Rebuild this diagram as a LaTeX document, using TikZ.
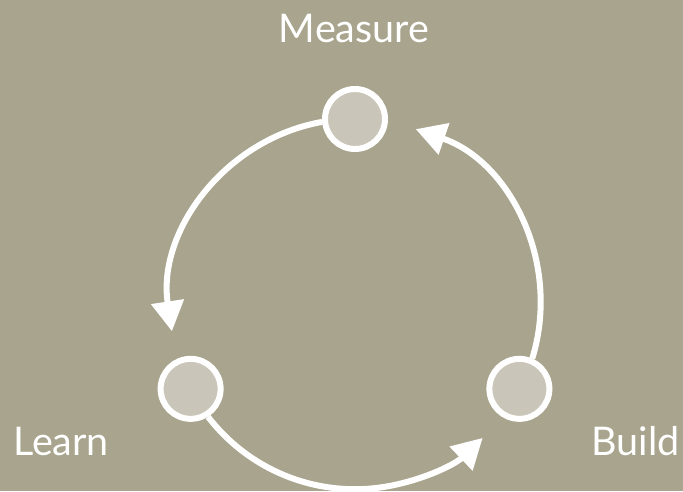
\documentclass[tikz,border=0pt]{standalone}
\usepackage{fontspec}
\setmainfont{Lato}
\usetikzlibrary{arrows.meta}
\definecolor{bgtaupe}{HTML}{A8A48D}
\definecolor{stagefill}{HTML}{C9C5B8}

\begin{document}
\begin{tikzpicture}[x=1pt,y=1pt]
    % Radius of the loop the stages sit on
    \def\R{185}
    % Style definitions
    \tikzset{
        % one stage of the loop
        stage/.style={circle, draw=white, line width=6pt, fill=stagefill,
            minimum size=60pt, inner sep=0pt},
        % white arrows along the loop
        loop arrow/.style={draw=white, line width=6pt,
            -{Triangle[width=32pt,length=30pt]}},
        % stage names
        stage label/.style={text=white, inner sep=0pt,
            font=\fontsize{39.5}{44}\selectfont}
    }
    % Background
    \fill[bgtaupe] (0,0) rectangle (683,491);
    \useasboundingbox (0,0) rectangle (683,491);
    \coordinate (O) at (355,187);

    % Stages
    \path (O) ++(90:\R) node[stage] (M) {};
    \path (O) ++(207.3:\R) node[stage] (L) {};
    \path (O) ++(332.7:\R) node[stage] (B) {};

    % Labels
    \node[stage label, anchor=base] (Mtext) at (354,448) {Measure};
    \node[stage label, anchor=base west] (Ltext) at (13,36) {Learn};
    \node[stage label, anchor=base east] (Btext) at (680,36) {Build};

    % Arrows between stages
    \draw[loop arrow] (M.185.1) arc[start angle=100.2, end angle=188.5, radius=\R];
    \draw[loop arrow] (L.302.4) arc[start angle=217.5, end angle=313.7, radius=\R];
    \draw[loop arrow] (B.67.8) arc[start angle=342.9, end angle=431, radius=\R];
\end{tikzpicture}
\end{document}
